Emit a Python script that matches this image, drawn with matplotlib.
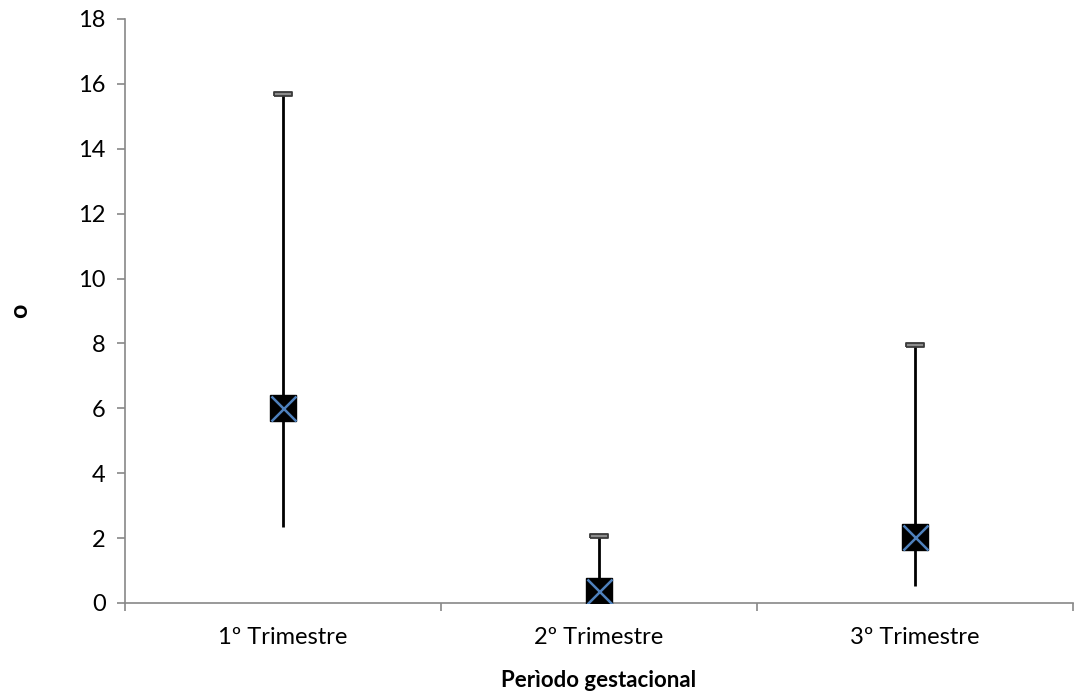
import matplotlib.pyplot as plt
import numpy as np

# Data
categories = ["1º Trimestre", "2º Trimestre", "3º Trimestre"]
high_vals = [15.7, 2.05, 7.95]
low_vals = [2.35, 0.0, 0.53]
mid_vals = [6.02, 0.38, 2.04]
y_ticks = [0, 2, 4, 6, 8, 10, 12, 14, 16, 18]

plt.rcParams['font.family'] = ['Lato', 'DejaVu Sans']

fig = plt.figure(figsize=(10.75, 6.93), dpi=100)
ax = fig.add_axes([0.1163, 0.1299, 0.8817, 0.8427])

x = np.arange(len(categories))

# high-low lines
ax.vlines(x, low_vals, high_vals, color='black', linewidth=2, zorder=2)

# cap marker at high value (small gray bar)
cap = [(-1, -0.25), (1, -0.25), (1, 0.25), (-1, 0.25), (-1, -0.25)]
ax.plot(x, high_vals, linestyle='none', marker=cap, markersize=13.5,
        markerfacecolor='#8c8c8c', markeredgecolor='#3a3a3a',
        markeredgewidth=1.3, zorder=3)

# black square with blue cross at the mean
ax.plot(x, mid_vals, linestyle='none', marker='s', markersize=19,
        markerfacecolor='black', markeredgecolor='black', zorder=4)
ax.plot(x, mid_vals, linestyle='none', marker='x', markersize=18,
        markeredgecolor='#4F81BD', markeredgewidth=1.8, zorder=5)

ax.set_xlim(-0.5, len(categories) - 0.5)
ax.set_ylim(0, 18)
ax.set_yticks(y_ticks)
ax.set_xticks(x)
ax.set_xticklabels(categories)
ax.set_xticks(np.arange(len(categories) + 1) - 0.5, minor=True)

for side in ['top', 'right']:
    ax.spines[side].set_visible(False)
for side in ['left', 'bottom']:
    ax.spines[side].set_color('#888888')
    ax.spines[side].set_linewidth(1.2)

ax.tick_params(axis='y', direction='out', length=6, color='#888888',
               labelsize=17, pad=8, width=1.2)
ax.tick_params(axis='x', which='major', length=0, labelsize=17, pad=17)
ax.tick_params(axis='x', which='minor', direction='out', length=6,
               color='#888888', width=1.2)

ax.set_xlabel("Perìodo gestacional", fontsize=16, fontweight='bold', labelpad=16)
ax.set_ylabel("o", fontsize=18, fontweight='bold', labelpad=34)

fig.savefig("out.png", dpi=100)
